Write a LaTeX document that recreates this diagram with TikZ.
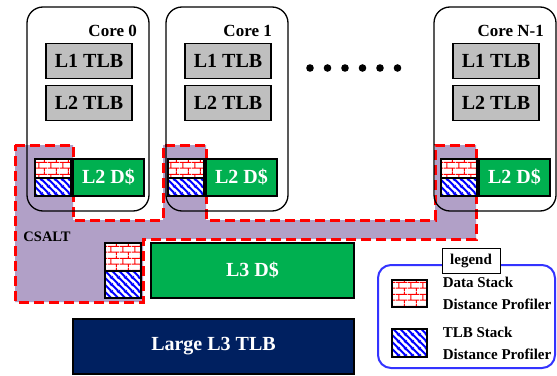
\documentclass[tikz,border=0pt]{standalone}
\usepackage{fontspec}
\setmainfont{Liberation Serif}
\usepackage{tikz}
\usetikzlibrary{calc}
\usetikzlibrary{positioning}
\usetikzlibrary{patterns.meta}

\definecolor{cachegreen}{HTML}{00B050}
\definecolor{tlbnavy}{HTML}{002060}
\definecolor{csaltpurple}{HTML}{B1A0C7}
\definecolor{tlbgray}{HTML}{BFBFBF}
\definecolor{legendblue}{HTML}{3333FF}

% profiler fillings
\tikzdeclarepattern{
	name=brickwall,
	type=uncolored,
	bounding box={(0pt,0pt) and (12pt,12pt)},
	tile size={(12pt,12pt)},
	code={
		\draw[line width=1.1pt] (0pt,3pt) -- (12pt,3pt) (0pt,9pt) -- (12pt,9pt)
			(3pt,3pt) -- (3pt,9pt) (9pt,9pt) -- (9pt,12pt) (9pt,0pt) -- (9pt,3pt);
	}
}
\tikzdeclarepattern{
	name=tlbstripes,
	type=uncolored,
	bounding box={(0pt,0pt) and (7pt,7pt)},
	tile size={(7pt,7pt)},
	code={
		\draw[line width=2.2pt] (0pt,7pt) -- (7pt,0pt) (-1pt,1pt) -- (1pt,-1pt) (6pt,8pt) -- (8pt,6pt);
	}
}

\newcommand{\boxfont}{\bfseries\fontsize{20}{24}\selectfont}
\newcommand{\corefont}{\bfseries\fontsize{17}{20}\selectfont}
\newcommand{\legendfont}{\bfseries\fontsize{15}{22}\selectfont}

\tikzset{
	corebox/.style={draw, line width=1.3pt, rounded corners=16pt, minimum width=122pt, minimum height=204pt, inner sep=0pt},
	corelabel/.style={font=\corefont, inner sep=0pt},
	tlbbox/.style={draw, fill=tlbgray, line width=1.1pt, minimum width=86pt, minimum height=35pt, inner sep=0pt, font=\boxfont},
	cachebox/.style={draw, fill=cachegreen, text=white, line width=1.1pt, inner sep=0pt, font=\boxfont},
	bigtlbbox/.style={draw, fill=tlbnavy, text=white, line width=1.1pt, inner sep=0pt, font=\boxfont},
	datasdp/.style={draw, line width=1.2pt, preaction={fill=white}, pattern=brickwall, pattern color=red, minimum width=36pt, inner sep=0pt},
	tlbsdp/.style={draw, line width=1.2pt, preaction={fill=white}, pattern=tlbstripes, pattern color=blue, minimum width=36pt, inner sep=0pt},
	csaltborder/.style={draw=red, fill=csaltpurple, line width=3pt, dash pattern=on 10pt off 5pt},
	legendtext/.style={font=\legendfont, align=left, inner sep=0pt},
}

\begin{document}
\begin{tikzpicture}[x=1pt,y=-1pt]
	\useasboundingbox (0,0) rectangle (557,375);
	
	%CSALT region
	\draw[csaltborder] (15,145) -- (73,145) -- (73,220) -- (163,220) -- (163,145) -- (206,145)
		-- (206,220) -- (435,220) -- (435,145) -- (476,145) -- (476,239) -- (143,239)
		-- (143,302) -- (15,302) -- cycle;
	\node[font=\bfseries\fontsize{14.5}{17}\selectfont] (csalt) at (47,237) {CSALT};
	
	%cores
	\foreach \i/\x/\p/\r/\name in {0/27/35/137/Core 0, 1/166/168/272/Core 1, 2/434/441/544/Core N-1} {
		\node[corebox] (core\i) at (\x+61,109) {};
		\node[corelabel, anchor=east] (core_label\i) at (\r,31) {\name};
		\node[tlbbox] (l1tlb\i) at (\x+62,61) {L1 TLB};
		\node[tlbbox] (l2tlb\i) at (\x+62,103) {L2 TLB};
		\node[datasdp, minimum height=19pt] (dsdp\i) at (\p+18,168.5) {};
		\node[tlbsdp, minimum height=18pt] (tsdp\i) at (\p+18,187) {};
		\node[cachebox, minimum width=71pt, minimum height=37pt] (l2d\i) at (\p+73.5,177.5) {L2 D\$};
	}
	
	%more cores
	\foreach \k in {0,...,5} {
		\fill (310+\k*17.5,68) circle (3.8pt);
	}
	
	%shared level
	\node[datasdp, minimum height=28pt] (dsdp_shared) at (123,257) {};
	\node[tlbsdp, minimum height=27pt] (tsdp_shared) at (123,284.5) {};
	\node[cachebox, minimum width=203pt, minimum height=55pt] (l3d) at (252.5,270.5) {L3 D\$};
	\node[bigtlbbox, minimum width=281pt, minimum height=55pt] (l3tlb) at (213.5,346.5) {Large L3 TLB};
	
	%legend
	\node[draw=legendblue, line width=2pt, rounded corners=13pt, minimum width=177pt, minimum height=103pt] (legend_box) at (466.5,316.5) {};
	\node[draw, fill=white, line width=1pt, minimum width=58pt, minimum height=25pt, inner sep=0pt, font=\legendfont] (legend_title) at (471,260.5) {legend};
	\node[datasdp, minimum width=35pt, minimum height=27pt] (legend_dsdp) at (409.5,293.5) {};
	\node[legendtext, right=15pt of legend_dsdp] (legend_dtext) {Data Stack\\Distance Profiler};
	\node[tlbsdp, minimum width=35pt, minimum height=28pt] (legend_tsdp) at (409.5,343) {};
	\node[legendtext, right=15pt of legend_tsdp] (legend_ttext) {TLB Stack\\Distance Profiler};

\end{tikzpicture}
\end{document}
